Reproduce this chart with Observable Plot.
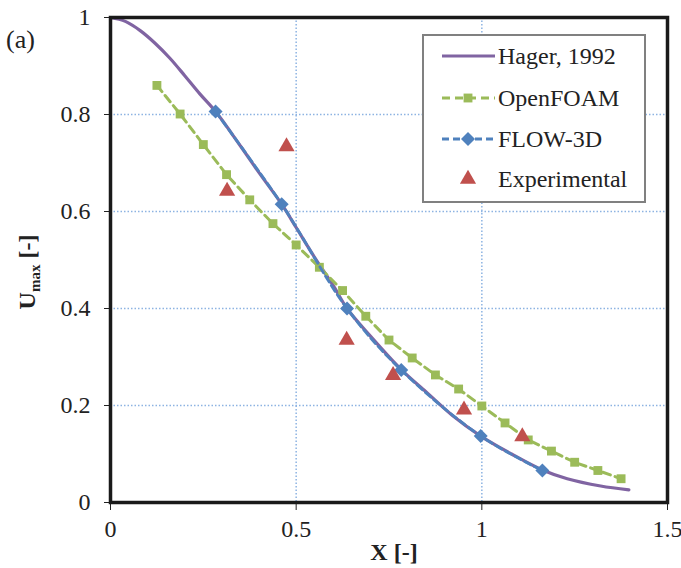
<!DOCTYPE html>
<html>
<head>
<meta charset="utf-8">
<script src="https://cdn.jsdelivr.net/npm/d3@7"></script>
<script src="https://cdn.jsdelivr.net/npm/@observablehq/plot@0.6"></script>
<style>
  html, body { margin: 0; padding: 0; background: white; }
  #chart { position: relative; width: 681px; height: 568px; }
</style>
</head>
<body>
<div id="chart"></div>
<script>
// ---- Data ----
const hagerX = [0, 0.04, 0.08, 0.12, 0.16, 0.20, 0.24, 0.283, 0.35, 0.40, 0.461, 0.50, 0.55, 0.60, 0.637, 0.70, 0.783, 0.85, 0.92, 0.997, 1.08, 1.163, 1.23, 1.32, 1.396];
const hagerY = [1.0, 0.992, 0.973, 0.947, 0.916, 0.880, 0.843, 0.806, 0.735, 0.68, 0.615, 0.567, 0.505, 0.447, 0.400, 0.343, 0.274, 0.228, 0.180, 0.137, 0.100, 0.067, 0.049, 0.034, 0.026];

const openfoamX = [0.125, 0.1875, 0.25, 0.3125, 0.375, 0.4375, 0.5, 0.5625, 0.625, 0.6875, 0.75, 0.8125, 0.875, 0.9375, 1.0, 1.0625, 1.125, 1.1875, 1.25, 1.3125, 1.375];
const openfoamY = [0.860, 0.801, 0.738, 0.676, 0.624, 0.575, 0.531, 0.485, 0.437, 0.384, 0.335, 0.298, 0.263, 0.234, 0.199, 0.164, 0.129, 0.106, 0.083, 0.066, 0.049];

const flowX = [0.283, 0.461, 0.637, 0.783, 0.997, 1.163];
const flowY = [0.806, 0.615, 0.400, 0.273, 0.137, 0.066];

const expX = [0.314, 0.474, 0.636, 0.761, 0.952, 1.109];
const expY = [0.642, 0.734, 0.335, 0.262, 0.191, 0.136];

const xTicks = [0, 0.5, 1, 1.5];
const xTickLabels = ["0", "0.5", "1", "1.5"];
const yTicks = [0, 0.2, 0.4, 0.6, 0.8, 1];
const yTickLabels = ["0", "0.2", "0.4", "0.6", "0.8", "1"];

const seriesNames = ["Hager, 1992", "OpenFOAM", "FLOW-3D", "Experimental"];
const colors = ["#8064A2", "#9BBB59", "#4F81BD", "#C0504D"];

// ---- Build tables ----
const hager = hagerX.map((x, i) => ({x, y: hagerY[i]}));
const openfoam = openfoamX.map((x, i) => ({x, y: openfoamY[i]}));
const flow = flowX.map((x, i) => ({x, y: flowY[i]}));
const exp = expX.map((x, i) => ({x, y: expY[i]}));

const font = "'Liberation Serif', 'Times New Roman', serif";
const gridStyle = {stroke: "#8DB3E2", strokeOpacity: 1, strokeWidth: 1.5, strokeDasharray: "1.5,2"};
const symR = [0, 5, 6.3, 6];

const svg = Plot.plot({
  width: 681,
  height: 568,
  marginLeft: 110,
  marginRight: 14,
  marginTop: 17,
  marginBottom: 66,
  x: {domain: [0, 1.5]},
  y: {domain: [0, 1]},
  style: {fontFamily: font, fontSize: "24px", color: "#222", background: "white", overflow: "visible"},
  marks: [
    Plot.gridX([0.5, 1], gridStyle),
    Plot.gridY([0.2, 0.4, 0.6, 0.8], gridStyle),
    Plot.axisX({ticks: xTicks, tickFormat: d => xTickLabels[xTicks.indexOf(d)], tickSize: 8, tickPadding: 9, label: null, fontSize: 24}),
    Plot.axisY({ticks: yTicks, tickFormat: d => yTickLabels[yTicks.indexOf(d)], tickSize: 6, tickPadding: 14, label: null, fontSize: 24}),
    Plot.line(hager, {x: "x", y: "y", stroke: colors[0], strokeWidth: 3.2, curve: "catmull-rom"}),
    Plot.line(openfoam, {x: "x", y: "y", stroke: colors[1], strokeWidth: 3, strokeDasharray: "8,5"}),
    Plot.dot(openfoam, {x: "x", y: "y", symbol: "square", r: symR[1], fill: colors[1], stroke: "none"}),
    Plot.line(flow, {x: "x", y: "y", stroke: colors[2], strokeWidth: 2.8, strokeDasharray: "7,4", curve: "catmull-rom"}),
    Plot.dot(flow, {x: "x", y: "y", symbol: "diamond2", r: symR[2], fill: colors[2], stroke: "none"}),
    Plot.dot(exp, {x: "x", y: "y", symbol: "triangle", r: symR[3], fill: colors[3], stroke: "none"}),
    Plot.frame({stroke: "#1a1a1a", strokeWidth: 3.5})
  ]
});

document.getElementById("chart").appendChild(svg);

// ---- Annotations: axis titles, panel label, legend ----
const s = d3.select(svg);

s.append("text")
  .attr("x", 394).attr("y", 560)
  .attr("text-anchor", "middle")
  .attr("font-family", font).attr("font-size", 24).attr("font-weight", "bold").attr("fill", "#222")
  .text("X [-]");

const yl = s.append("text")
  .attr("transform", "translate(35,272) rotate(-90)")
  .attr("text-anchor", "middle")
  .attr("font-family", font).attr("font-size", 24).attr("font-weight", "bold").attr("fill", "#222");
yl.append("tspan").text("U");
yl.append("tspan").attr("font-size", 15).attr("dy", 5).text("max");
yl.append("tspan").attr("dy", -5).text(" [-]");

s.append("text")
  .attr("x", 6).attr("y", 48)
  .attr("text-anchor", "start")
  .attr("font-family", font).attr("font-size", 26).attr("fill", "#222")
  .text("(a)");

const lg = s.append("g");
lg.append("rect")
  .attr("x", 423).attr("y", 35).attr("width", 222).attr("height", 167)
  .attr("fill", "white").attr("stroke", "#808080").attr("stroke-width", 2);

const rowsY = [56, 98, 139, 179];
const dashes = [null, "8,5", "7,4", null];
const syms = [null, d3.symbolSquare, d3.symbolDiamond2, d3.symbolTriangle];
seriesNames.forEach((name, i) => {
  const cy = rowsY[i];
  if (i < 3) {
    const ln = lg.append("line")
      .attr("x1", 442).attr("x2", 495).attr("y1", cy).attr("y2", cy)
      .attr("stroke", colors[i]).attr("stroke-width", 3);
    if (dashes[i]) ln.attr("stroke-dasharray", dashes[i]);
  }
  if (syms[i]) {
    lg.append("path")
      .attr("transform", `translate(468,${cy})`)
      .attr("d", d3.symbol(syms[i], Math.PI * symR[i] * symR[i])())
      .attr("fill", colors[i]);
  }
  lg.append("text")
    .attr("x", 498).attr("y", cy).attr("dy", "0.35em")
    .attr("text-anchor", "start")
    .attr("font-family", font).attr("font-size", 24).attr("fill", "#222")
    .text(name);
});
</script>
</body>
</html>
